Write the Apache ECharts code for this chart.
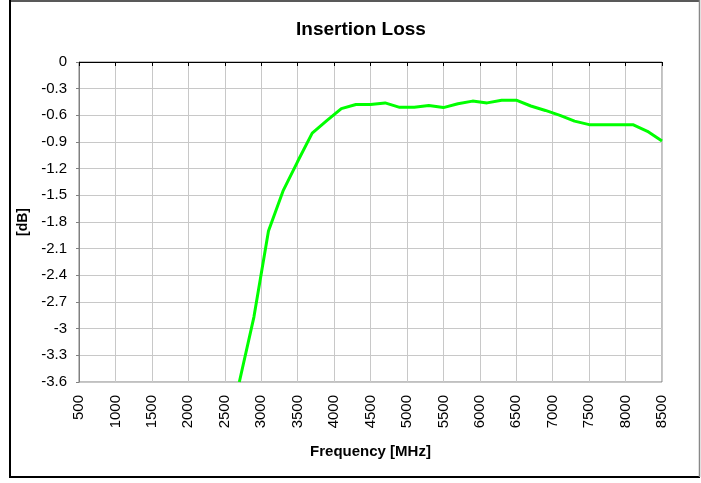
<!DOCTYPE html>
<html>
<head>
<meta charset="utf-8">
<script src="https://cdn.jsdelivr.net/npm/echarts@6/dist/echarts.min.js"></script>
<style>
  html, body { margin: 0; padding: 0; background: #fff; }
  #chart { width: 701px; height: 483px; }
</style>
</head>
<body>
<div id="chart"></div>
<script>
// frequency points (MHz) and insertion loss (dB)
const freqs = [2700, 2900, 3100, 3300, 3500, 3700, 3900, 4100, 4300, 4500,
               4700, 4900, 5100, 5300, 5500, 5700, 5900, 6100, 6300, 6500,
               6700, 6900, 7100, 7300, 7500, 7700, 7900, 8100, 8300, 8500]
const loss = [-3.6, -2.87, -1.90, -1.45, -1.12, -0.80, -0.66, -0.525, -0.478, -0.478,
              -0.46, -0.51, -0.51, -0.49, -0.513, -0.47, -0.44, -0.46, -0.43, -0.43,
              -0.495, -0.545, -0.60, -0.665, -0.705, -0.705, -0.705, -0.705, -0.78, -0.89]

const xMin = 500, xMax = 8500, xStep = 500
const yMin = -3.6, yMax = 0, yStep = 0.3

const font = 'Arial, "Liberation Sans", sans-serif'

const chart = echarts.init(document.getElementById('chart'))

chart.setOption({
  animation: false,
  backgroundColor: '#fff',
  title: {
    text: 'Insertion Loss',
    left: 356,
    textAlign: 'center',
    top: 15,
    textStyle: { fontFamily: font, fontSize: 19, fontWeight: 'bold', color: '#000' }
  },
  grid: { left: 79, right: 39, top: 62, bottom: 101, show: true, borderColor: '#808080', borderWidth: 1 },
  xAxis: {
    type: 'value',
    min: xMin, max: xMax, interval: xStep,
    name: 'Frequency [MHz]',
    nameLocation: 'middle',
    nameGap: 62,
    nameTextStyle: { fontFamily: font, fontSize: 15, fontWeight: 'bold', color: '#000' },
    axisLine: { lineStyle: { color: '#000', width: 1 } },
    axisTick: { show: true, length: 4, lineStyle: { color: '#000' } },
    axisLabel: {
      rotate: 90, fontFamily: font, fontSize: 15, color: '#000', margin: 13,
      formatter: v => String(v)
    },
    splitLine: { show: true, lineStyle: { color: '#c8c8c8', width: 1 } }
  },
  yAxis: {
    type: 'value',
    min: yMin, max: yMax, interval: yStep,
    name: '[dB]',
    nameLocation: 'middle',
    nameGap: 48,
    nameTextStyle: { fontFamily: font, fontSize: 14, fontWeight: 'bold', color: '#000' },
    axisLine: { show: true, lineStyle: { color: '#808080' } },
    axisTick: { show: true, length: 3, lineStyle: { color: '#808080' } },
    axisLabel: {
      fontFamily: font, fontSize: 15, color: '#000', margin: 12,
      formatter: v => String(+v.toFixed(1))
    },
    splitLine: { show: true, lineStyle: { color: '#c8c8c8', width: 1 } }
  },
  graphic: [
    { type: 'line', shape: { x1: 10, y1: 1, x2: 700, y2: 1 }, style: { stroke: '#222', lineWidth: 1.5 } },
    { type: 'line', shape: { x1: 10, y1: 0, x2: 10, y2: 478 }, style: { stroke: '#000', lineWidth: 2 } },
    { type: 'line', shape: { x1: 9, y1: 477, x2: 700, y2: 477 }, style: { stroke: '#000', lineWidth: 2 } },
    { type: 'line', shape: { x1: 699.5, y1: 0, x2: 699.5, y2: 477 }, style: { stroke: '#888', lineWidth: 1.5 } }
  ],
  series: [{
    type: 'line',
    data: freqs.map((f, i) => [f, loss[i]]),
    showSymbol: false,
    clip: true,
    lineStyle: { color: '#00ff00', width: 3 },
    itemStyle: { color: '#00ff00' }
  }]
})
</script>
</body>
</html>
